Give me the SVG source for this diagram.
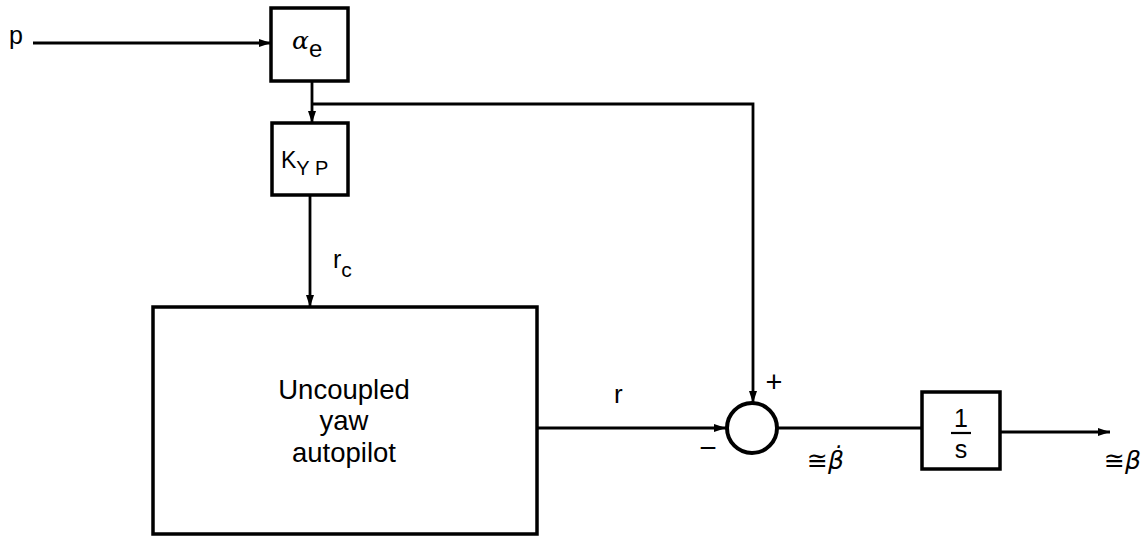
<svg xmlns="http://www.w3.org/2000/svg" width="1147" height="540" viewBox="0 0 1147 540">
<style>
.box{fill:none;stroke:#000;stroke-width:3.5}
.ln{fill:none;stroke:#000;stroke-width:2.8}
.t{font-family:"Liberation Sans",Arial,sans-serif;fill:#000}
.m{font-family:"DejaVu Serif","Liberation Serif",serif;font-style:italic;fill:#000}
.s{font-family:"DejaVu Sans",sans-serif;fill:#000}
</style>
<defs>
<marker id="ah" viewBox="0 0 12 10" refX="12" refY="5" markerWidth="12" markerHeight="10" markerUnits="userSpaceOnUse" orient="auto">
<path d="M0,1 L12,5 L0,9 Z" fill="#000"/>
</marker>
</defs>
<rect width="1147" height="540" fill="#fff"/>
<g id="connectors">
<path class="ln" d="M33,43 H271" marker-end="url(#ah)"/>
<path class="ln" d="M312,81 V123" marker-end="url(#ah)"/>
<path class="ln" d="M312,104 H753 V403" marker-end="url(#ah)"/>
<path class="ln" d="M310,195 V307" marker-end="url(#ah)"/>
<path class="ln" d="M537,428 H726" marker-end="url(#ah)"/>
<path class="ln" d="M778,428 H922"/>
<path class="ln" d="M1001,432 H1110" marker-end="url(#ah)"/>
</g>
<g id="label-p"><text class="t" x="9" y="44" font-size="25">p</text></g>
<g id="alpha_e">
<rect class="box" x="271" y="8" width="77" height="73"/>
<text x="292" y="49" font-size="25"><tspan class="m">α</tspan><tspan class="t" font-size="24" dy="8">e</tspan></text>
</g>
<g id="K_YP">
<rect class="box" x="272" y="123" width="76" height="72"/>
<text class="t" x="281" y="168" font-size="23">K<tspan font-size="20" dy="7">Y P</tspan></text>
</g>
<g id="label-rc"><text class="t" x="333" y="268" font-size="25">r<tspan font-size="21" dy="9">c</tspan></text></g>
<g id="autopilot">
<rect class="box" x="153" y="307" width="384" height="227"/>
<text class="t" x="344" y="399" font-size="27.5" text-anchor="middle">Uncoupled</text>
<text class="t" x="344" y="430" font-size="27.5" text-anchor="middle">yaw</text>
<text class="t" x="344" y="462" font-size="27.5" text-anchor="middle">autopilot</text>
</g>
<g id="label-r"><text class="t" x="614" y="403" font-size="26">r</text></g>
<g id="sum">
<circle cx="752" cy="428" r="25" fill="none" stroke="#000" stroke-width="4"/>
<text class="t" x="774" y="392" font-size="29" text-anchor="middle">+</text>
<text class="t" x="708" y="458" font-size="30" text-anchor="middle">−</text>
</g>
<g id="label-betadot">
<text x="807" y="469" font-size="25"><tspan class="s">≅</tspan><tspan class="s" font-style="italic">β̇</tspan></text>
</g>
<g id="integrator">
<rect class="box" x="922" y="392" width="78" height="77"/>
<text class="t" x="961" y="427" font-size="25" text-anchor="middle">1</text>
<line x1="951" y1="433" x2="971" y2="433" stroke="#000" stroke-width="2.2"/>
<text class="t" x="961" y="458" font-size="25" text-anchor="middle">s</text>
</g>
<g id="label-beta"><text x="1104" y="469" font-size="25"><tspan class="s">≅</tspan><tspan class="s" font-style="italic">β</tspan></text></g>
</svg>
